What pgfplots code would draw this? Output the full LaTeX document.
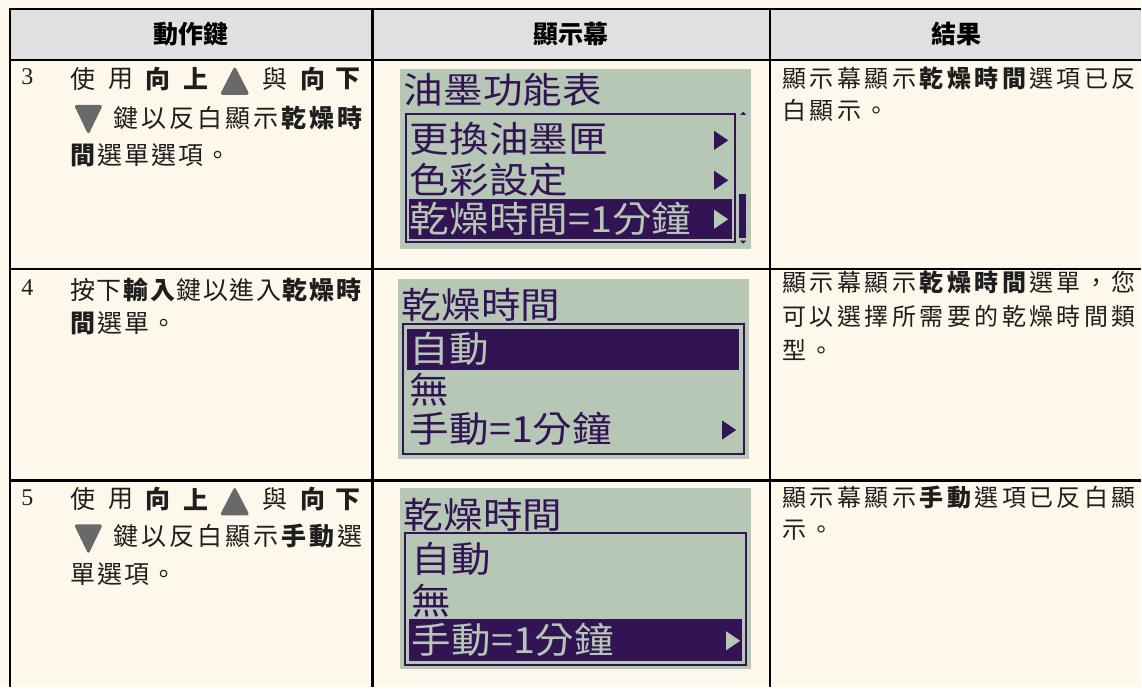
\documentclass[border=0pt]{standalone}
\usepackage{pgfplots}
\pgfplotsset{compat=1.18}
\usepackage{fontspec}
\newfontfamily\cjkA[LetterSpace=8]{Noto Sans CJK TC}
\newfontfamily\cjkC[LetterSpace=14.5]{Noto Sans CJK TC}
\newfontfamily\cjk{Noto Sans CJK TC}
\newfontfamily\lcd[FakeStretch=1.1]{Noto Sans CJK TC}
\newfontfamily\ser{Liberation Serif}
\definecolor{bg}{RGB}{254,248,236}
\definecolor{hdr}{RGB}{224,224,224}
\definecolor{lcdbg}{RGB}{182,199,181}
\definecolor{lcdfg}{RGB}{50,20,85}
\definecolor{tri}{RGB}{105,105,105}
\definecolor{txt}{RGB}{30,30,30}
\newcommand\fa{\cjkA\fontsize{12.5}{12.5}\selectfont}
\newcommand\fc{\cjkC\fontsize{12}{12}\selectfont}
\newcommand\fj{\cjk\fontsize{12.5}{12.5}\selectfont}
\newcommand\fl{\lcd\fontsize{18}{18}\selectfont}
\newcommand\T[3]{\node[anchor=west,inner sep=0pt,text=txt] at (axis cs:#1,#2) {#3};}
\newcommand\LC[4]{\node[anchor=west,inner sep=0pt,text=#4] at (axis cs:#1,#2) {\fl #3};}
\begin{document}
\begin{tikzpicture}
\begin{axis}[width=571pt,height=344pt,scale only axis,
  xmin=0,xmax=1142,ymin=0,ymax=688,y dir=reverse,hide axis,clip=false]
% background and header
\fill[bg] (axis cs:0,0) rectangle (axis cs:1142,688);
\fill[hdr] (axis cs:10,9) rectangle (axis cs:1142,60);
% grid lines
\addplot[black,line width=1.3pt,no marks] coordinates {(1142,9) (10,9) (10,688)};
\addplot[black,line width=1.3pt,no marks] coordinates {(10,60) (1142,60)};
\addplot[black,line width=1.3pt,no marks] coordinates {(10,269.5) (1142,269.5)};
\addplot[black,line width=1.3pt,no marks] coordinates {(10,481) (1142,481)};
\addplot[black,line width=1.3pt,no marks] coordinates {(373,9) (373,688)};
\addplot[black,line width=1.3pt,no marks] coordinates {(771,9) (771,688)};
% header
\node[inner sep=0pt] at (axis cs:191.5,34) {\cjk\bfseries\fontsize{12.5}{12.5}\selectfont 動作鍵};
\node[inner sep=0pt] at (axis cs:572,34) {\cjk\bfseries\fontsize{12.5}{12.5}\selectfont 顯示幕};
\node[inner sep=0pt] at (axis cs:958,34) {\cjk\bfseries\fontsize{12.5}{12.5}\selectfont 結果};
% ---------- row 3 ----------
\T{21}{77}{\ser\fontsize{12}{12}\selectfont 3}
\T{70}{79}{\fj 使}\T{108}{79}{\fj 用}\T{145}{79}{\fj\bfseries 向}\T{183}{79}{\fj\bfseries 上}
\T{262}{79}{\fj 與}\T{300}{79}{\fj\bfseries 向}\T{335}{79}{\fj\bfseries 下}
\fill[tri,rounded corners=1.5pt] (axis cs:220,95) -- (axis cs:250,95) -- (axis cs:235,66) -- cycle;
\fill[tri,rounded corners=1.5pt] (axis cs:74,105) -- (axis cs:103,105) -- (axis cs:88.5,135) -- cycle;
\T{113}{118}{\fj\makebox[124.5pt][s]{鍵\hfill 以\hfill 反\hfill 白\hfill 顯\hfill 示\hfill\bfseries 乾\hfill 燥\hfill 時}}
\T{70}{155}{\fa\textbf{間}選單選項。}
% ---------- row 4 ----------
\T{21}{288}{\ser\fontsize{12}{12}\selectfont 4}
\T{70}{290}{\fj\makebox[145.5pt][s]{按\hfill 下\hfill\textbf{輸}\hfill\textbf{入}\hfill 鍵\hfill 以\hfill 進\hfill 入\hfill\textbf{乾}\hfill\textbf{燥}\hfill\textbf{時}}}
\T{70}{324}{\fa\textbf{間}選單。}
% ---------- row 5 ----------
\T{21}{498}{\ser\fontsize{12}{12}\selectfont 5}
\T{70}{500}{\fj 使}\T{108}{500}{\fj 用}\T{145}{500}{\fj\bfseries 向}\T{183}{500}{\fj\bfseries 上}
\T{262}{500}{\fj 與}\T{300}{500}{\fj\bfseries 向}\T{335}{500}{\fj\bfseries 下}
\fill[tri,rounded corners=1.5pt] (axis cs:220,516) -- (axis cs:250,516) -- (axis cs:235,487) -- cycle;
\fill[tri,rounded corners=1.5pt] (axis cs:74,525) -- (axis cs:103,525) -- (axis cs:88.5,555) -- cycle;
\T{113}{537}{\fj\makebox[124.5pt][s]{鍵\hfill 以\hfill 反\hfill 白\hfill 顯\hfill 示\hfill\textbf{手}\hfill\textbf{動}\hfill 選}}
\T{70}{575}{\fa 單選項。}
% ---------- column 3 ----------
\T{783}{78}{\fc 顯示幕顯示\textbf{乾燥時間}選項已反}
\T{783}{110}{\fc 白顯示。}
\T{783}{283}{\fc 顯示幕顯示\textbf{乾燥時間}選單，您}
\T{783}{317}{\fc 可以選擇所需要的乾燥時間類}
\T{783}{350}{\fc 型。}
\T{783}{498}{\fc 顯示幕顯示\textbf{手動}選項已反白顯}
\T{783}{531}{\fc 示。}
% ---------- LCD 1 ----------
\fill[lcdbg] (axis cs:400,69) rectangle (axis cs:752,249);
\LC{404}{90}{油墨功能表}{lcdfg}
\draw[lcdfg,line width=1pt] (axis cs:406,114) rectangle (axis cs:736,242);
\LC{410}{139}{更換油墨匣}{lcdfg}
\LC{410}{180}{色彩設定}{lcdfg}
\fill[lcdfg] (axis cs:409,199) rectangle (axis cs:733,239);
\LC{410}{219}{乾燥時間=1分鐘}{lcdbg}
\fill[lcdfg] (axis cs:715,131) -- (axis cs:729,140.5) -- (axis cs:715,150) -- cycle;
\fill[lcdfg] (axis cs:715,171) -- (axis cs:729,180.5) -- (axis cs:715,190) -- cycle;
\fill[lcdbg] (axis cs:715,210) -- (axis cs:729,219.5) -- (axis cs:715,229) -- cycle;
\fill[lcdfg] (axis cs:741,115) -- (axis cs:747,115) -- (axis cs:744,112) -- cycle;
\fill[lcdfg] (axis cs:740,194) rectangle (axis cs:747,238);
\fill[lcdfg] (axis cs:741,241) -- (axis cs:747,241) -- (axis cs:744,244) -- cycle;
% ---------- LCD 2 ----------
\fill[lcdbg] (axis cs:398,279) rectangle (axis cs:750,460);
\LC{402}{305}{乾燥時間}{lcdfg}
\draw[lcdfg,line width=1pt] (axis cs:403,324) rectangle (axis cs:745,455);
\fill[lcdfg] (axis cs:407,329) rectangle (axis cs:740,370);
\LC{410}{349}{自動}{lcdbg}
\LC{410}{390}{無}{lcdfg}
\LC{410}{429}{手動=1分鐘}{lcdfg}
\fill[lcdfg] (axis cs:723,421) -- (axis cs:737,430.5) -- (axis cs:723,440) -- cycle;
% ---------- LCD 3 ----------
\fill[lcdbg] (axis cs:400,489) rectangle (axis cs:752,670);
\LC{404}{515}{乾燥時間}{lcdfg}
\draw[lcdfg,line width=1pt] (axis cs:405,534) rectangle (axis cs:747,666);
\LC{412}{560}{自動}{lcdfg}
\LC{412}{601}{無}{lcdfg}
\fill[lcdfg] (axis cs:409,620) rectangle (axis cs:743,662);
\LC{412}{641}{手動=1分鐘}{lcdbg}
\fill[lcdbg] (axis cs:727,632) -- (axis cs:741,641.5) -- (axis cs:727,651) -- cycle;
\end{axis}
\end{tikzpicture}
\end{document}
